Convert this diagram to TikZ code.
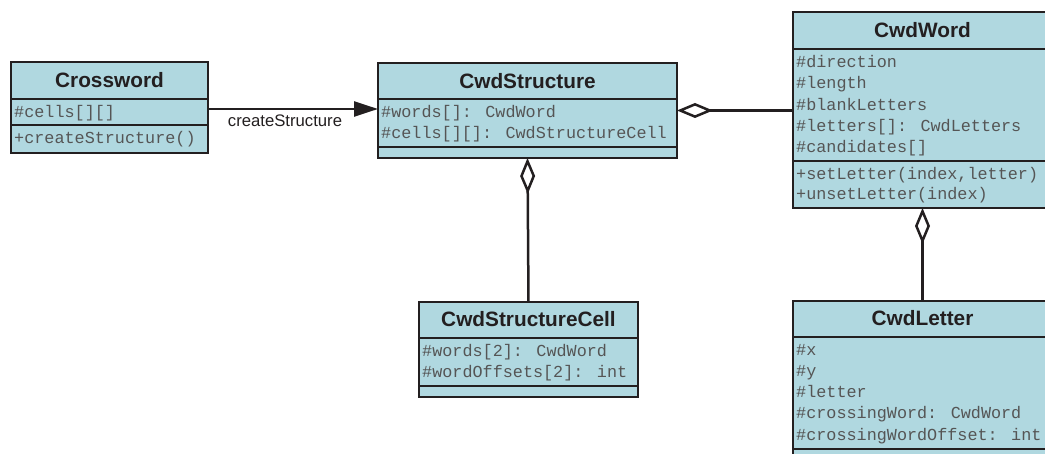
\documentclass[tikz,border=0pt]{standalone}
\usepackage{fontspec}
\setmainfont{Liberation Sans}
\newfontfamily\monof{Liberation Mono}
\usetikzlibrary{arrows.meta}
\definecolor{boxfill}{RGB}{176,216,224}
\definecolor{ink}{RGB}{35,31,32}
\definecolor{attrgray}{RGB}{85,85,85}
\tikzset{
  umlbox/.style={draw=ink, fill=boxfill, line width=2.8pt, inner sep=0pt, outer sep=0pt, anchor=north west},
  sepline/.style={draw=ink, line width=2.8pt},
  head/.style={anchor=base, inner sep=0pt, text=ink, font=\fontsize{20.8}{24}\selectfont\bfseries},
  attr/.style={anchor=base west, inner sep=0pt, text=attrgray, font=\fontsize{16.8}{20}\selectfont\monof},
  lbl/.style={anchor=base, inner sep=0pt, text=ink, font=\fontsize{16.7}{20}\selectfont},
  conn/.style={draw=ink, line width=2.5pt},
  assoc/.style={conn, -{Triangle[length=24pt,width=15pt]}},
  aggr/.style={conn, {Diamond[open,length=36pt,width=15pt,line width=2.5pt]}-}
}
\begin{document}
\begin{tikzpicture}[x=1pt,y=-1pt]
\useasboundingbox (0,0) rectangle (1045,454);
\clip (0,0) rectangle (1045,454);

% Crossword
\node[umlbox, minimum width=197pt, minimum height=91pt] (crossword) at (11,62) {};
\draw[sepline] (11,99) -- (208,99);
\draw[sepline] (11,125) -- (208,125);
\node[head] (crosswordT) at (109.5,88) {Crossword};
\node[attr] (cwA1) at (14,118) {\#cells[][]};
\node[attr] (cwM1) at (14,143.5) {+createStructure()};

% CwdStructure
\node[umlbox, minimum width=299pt, minimum height=95pt] (structure) at (378,63) {};
\draw[sepline] (378,99) -- (677,99);
\draw[sepline] (378,147) -- (677,147);
\node[head] (structureT) at (527.5,88.5) {CwdStructure};
\node[attr] (stA1) at (381,118) {\#words[]: CwdWord};
\node[attr] (stA2) at (381,139) {\#cells[][]: CwdStructureCell};

% CwdWord
\node[umlbox, minimum width=259pt, minimum height=196pt] (word) at (793,12) {};
\draw[sepline] (793,49) -- (1052,49);
\draw[sepline] (793,161) -- (1052,161);
\node[head] (wordT) at (922.5,38) {CwdWord};
\node[attr] (wA1) at (796,68) {\#direction};
\node[attr] (wA2) at (796,89) {\#length};
\node[attr] (wA3) at (796,110.5) {\#blankLetters};
\node[attr] (wA4) at (796,131.5) {\#letters[]: CwdLetters};
\node[attr] (wA5) at (796,153) {\#candidates[]};
\node[attr] (wM1) at (796,179.5) {+setLetter(index,letter)};
\node[attr] (wM2) at (796,200) {+unsetLetter(index)};

% CwdStructureCell
\node[umlbox, minimum width=219pt, minimum height=95pt] (cell) at (419,302) {};
\draw[sepline] (419,338) -- (638,338);
\draw[sepline] (419,386) -- (638,386);
\node[head] (cellT) at (528.5,327) {CwdStructureCell};
\node[attr] (cA1) at (422,357) {\#words[2]: CwdWord};
\node[attr] (cA2) at (422,378) {\#wordOffsets[2]: int};

% CwdLetter
\node[umlbox, minimum width=259pt, minimum height=174pt] (letter) at (793,301) {};
\draw[sepline] (793,337) -- (1052,337);
\draw[sepline] (793,449) -- (1052,449);
\node[head] (letterT) at (922.5,326) {CwdLetter};
\node[attr] (lA1) at (796,356) {\#x};
\node[attr] (lA2) at (796,377) {\#y};
\node[attr] (lA3) at (796,398) {\#letter};
\node[attr] (lA4) at (796,419) {\#crossingWord: CwdWord};
\node[attr] (lA5) at (796,440) {\#crossingWordOffset: int};

% connectors
\draw[assoc] ([yshift=-1.5pt]crossword.east) -- ([yshift=1.5pt]structure.west);
\node[lbl] (assocL) at (285,127) {createStructure};
\draw[aggr] (structure.east) -- (structure.east -| word.west);
\draw[aggr] (structure.south) -- (cell.north);
\draw[aggr] (word.south) -- (letter.north);
\end{tikzpicture}
\end{document}
